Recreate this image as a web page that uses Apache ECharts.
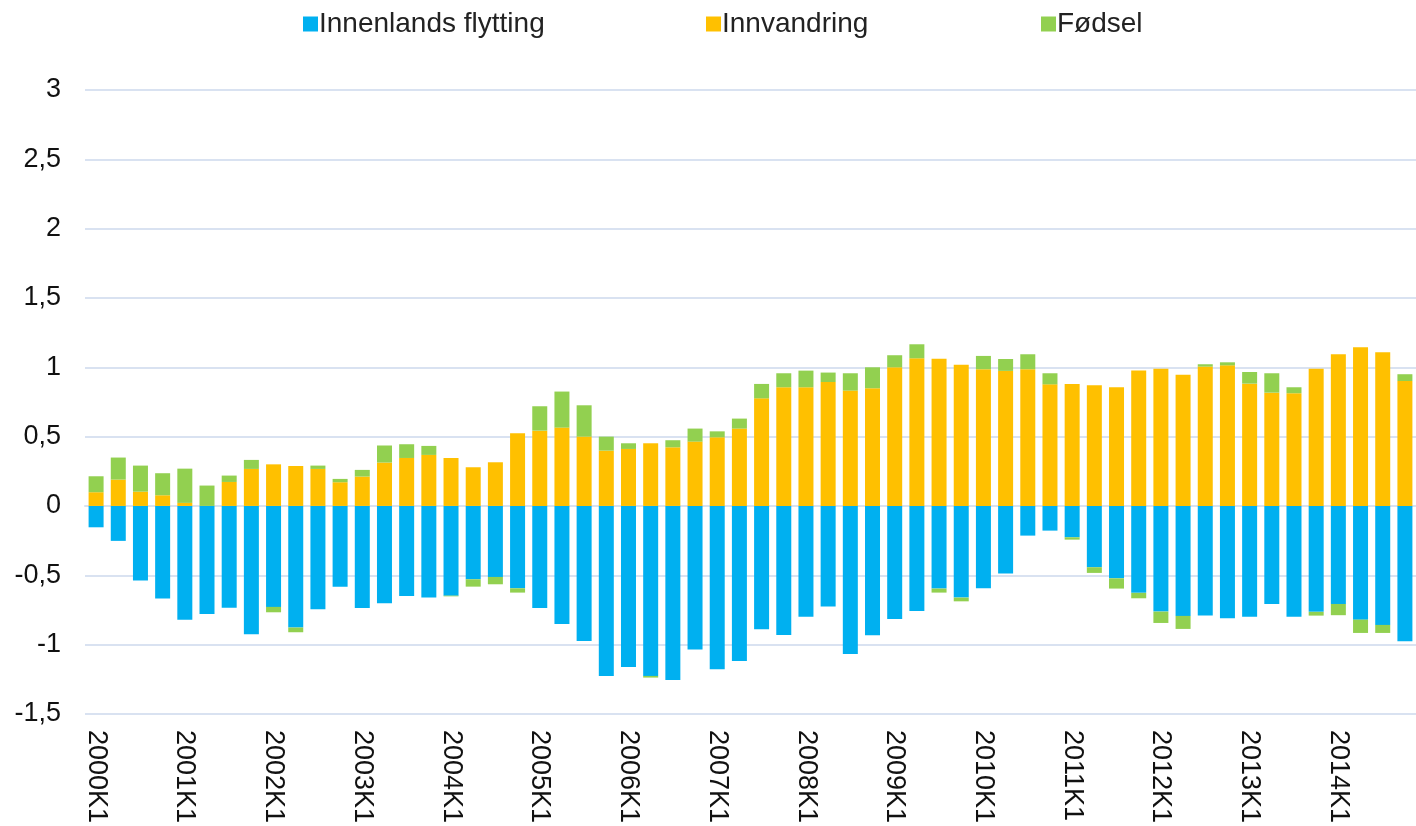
<!DOCTYPE html>
<html>
<head>
<meta charset="utf-8">
<script src="https://cdn.jsdelivr.net/npm/echarts@6/dist/echarts.min.js"></script>
<style>
  html, body { margin: 0; padding: 0; background: #fff; }
  #chart { width: 1416px; height: 826px; }
</style>
</head>
<body>
<div id="chart"></div>
<script>
// kvartaler 2000K1 - 2014K4
const years = [2000, 2001, 2002, 2003, 2004, 2005, 2006, 2007, 2008, 2009, 2010, 2011, 2012, 2013, 2014];
const quarters = ['K1', 'K2', 'K3', 'K4'];
const categories = [];
years.forEach(y => quarters.forEach(q => categories.push(y + q)));

const innenlands = [
  -0.154, -0.252, -0.538, -0.668, -0.82, -0.78, -0.735, -0.925, -0.728, -0.877,
  -0.745, -0.582, -0.736, -0.702, -0.649, -0.661, -0.647, -0.529, -0.512, -0.594,
  -0.736, -0.851, -0.974, -1.226, -1.161, -1.226, -1.255, -1.036, -1.178, -1.118,
  -0.889, -0.93, -0.80, -0.726, -1.067, -0.933, -0.815, -0.757, -0.596, -0.661,
  -0.594, -0.488, -0.214, -0.178, -0.226, -0.442, -0.522, -0.627, -0.762, -0.793,
  -0.791, -0.81, -0.80, -0.707, -0.80, -0.764, -0.707, -0.82, -0.858, -0.976
];
const innvandring = [
  0.099, 0.19, 0.103, 0.077, 0.022, 0, 0.173, 0.267, 0.30, 0.288,
  0.267, 0.171, 0.212, 0.313, 0.346, 0.368, 0.346, 0.279, 0.315, 0.524,
  0.543, 0.565, 0.5, 0.399, 0.411, 0.452, 0.423, 0.464, 0.495, 0.558,
  0.776, 0.856, 0.856, 0.894, 0.832, 0.849, 1.0, 1.065, 1.062, 1.019,
  0.986, 0.974, 0.986, 0.877, 0.88, 0.87, 0.856, 0.976, 0.99, 0.947,
  1.005, 1.014, 0.882, 0.817, 0.813, 0.99, 1.094, 1.144, 1.108, 0.901
];
const fodsel = [
  0.115, 0.159, 0.188, 0.159, 0.247, 0.147, 0.046, 0.065, -0.039, -0.034,
  0.024, 0.024, 0.048, 0.123, 0.099, 0.065, -0.005, -0.053, -0.053, -0.031,
  0.176, 0.26, 0.226, 0.101, 0.041, -0.012, 0.051, 0.094, 0.043, 0.072,
  0.104, 0.101, 0.12, 0.068, 0.125, 0.151, 0.087, 0.101, -0.029, -0.027,
  0.096, 0.086, 0.108, 0.08, -0.017, -0.041, -0.074, -0.039, -0.082, -0.094,
  0.017, 0.022, 0.084, 0.14, 0.043, -0.027, -0.081, -0.096, -0.058, 0.049
];

const font = '"Liberation Sans", Arial, sans-serif';
const gridColor = '#d9e2f1';

const chart = echarts.init(document.getElementById('chart'));

function bar(name, data, color) {
  return {
    name: name,
    type: 'bar',
    stack: 'total',
    barWidth: 15,
    data: data,
    itemStyle: { color: color },
    emphasis: { disabled: true }
  };
}

// en legend per serie, så avstanden blir som i originalen
function legend(name, left) {
  return {
    top: 5,
    left: left,
    itemWidth: 15,
    itemHeight: 15,
    icon: 'rect',
    textStyle: { fontSize: 28, color: '#222', fontFamily: font, padding: [0, 0, 0, -4] },
    data: [name]
  };
}

chart.setOption({
  animation: false,
  textStyle: { fontFamily: font },
  legend: [
    legend('Innenlands flytting', 298),
    legend('Innvandring', 701),
    legend('Fødsel', 1036)
  ],
  grid: { left: 85, top: 90, width: 1337, bottom: 112, containLabel: false },
  xAxis: {
    type: 'category',
    data: categories,
    axisLine: { show: true, lineStyle: { color: gridColor, width: 2 } },
    axisTick: { show: false },
    axisLabel: {
      interval: 3,
      rotate: -90,
      margin: 16,
      fontSize: 27,
      color: '#111',
      fontFamily: font
    }
  },
  yAxis: {
    type: 'value',
    min: -1.5,
    max: 3,
    interval: 0.5,
    axisLine: { show: false },
    axisTick: { show: false },
    splitLine: { lineStyle: { color: gridColor, width: 2 } },
    axisLabel: {
      margin: 24,
      fontSize: 27,
      color: '#111',
      fontFamily: font,
      formatter: v => String(v).replace('.', ',')
    }
  },
  series: [
    bar('Innenlands flytting', innenlands, '#00b0f0'),
    bar('Innvandring', innvandring, '#ffc000'),
    bar('Fødsel', fodsel, '#92d050')
  ]
});
</script>
</body>
</html>
